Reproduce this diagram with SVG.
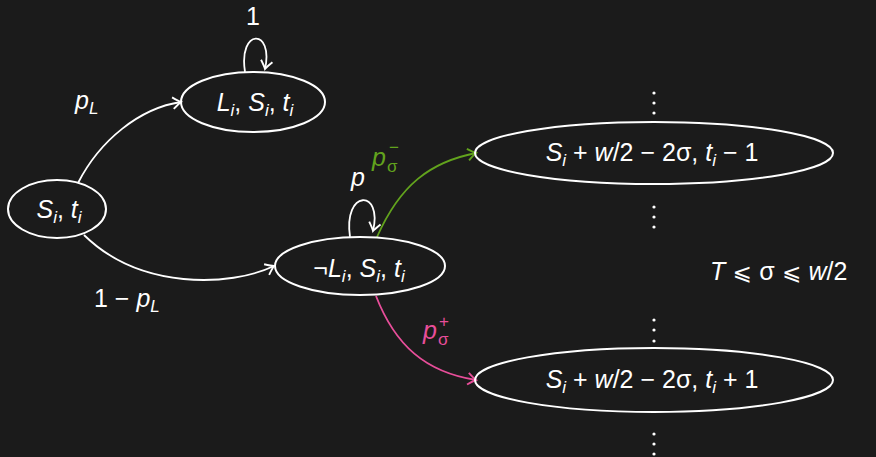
<svg xmlns="http://www.w3.org/2000/svg" width="876" height="457" viewBox="0 0 876 457">
<style>
text{font-family:"Liberation Sans","DejaVu Sans",sans-serif;font-size:25px;fill:#ffffff}
.v{font-style:italic}
.s{font-size:17px}
.n{fill:none;stroke:#ffffff;stroke-width:2}
.e{fill:none;stroke-width:1.8}
.sym{font-family:"DejaVu Sans",sans-serif;font-size:23px}
</style>
<defs>
<marker id="aw" markerUnits="userSpaceOnUse" markerWidth="14" markerHeight="14" refX="0" refY="0" viewBox="-8 -6 10 12" orient="auto"><path d="M-7,-5 Q-2,-1 0,0 Q-2,1 -7,5" fill="none" stroke="#ffffff" stroke-width="1.6"/></marker>
<marker id="ag" markerUnits="userSpaceOnUse" markerWidth="14" markerHeight="14" refX="0" refY="0" viewBox="-8 -6 10 12" orient="auto"><path d="M-7,-5 Q-2,-1 0,0 Q-2,1 -7,5" fill="none" stroke="#62a31d" stroke-width="1.6"/></marker>
<marker id="ap" markerUnits="userSpaceOnUse" markerWidth="14" markerHeight="14" refX="0" refY="0" viewBox="-8 -6 10 12" orient="auto"><path d="M-7,-5 Q-2,-1 0,0 Q-2,1 -7,5" fill="none" stroke="#e84e9a" stroke-width="1.6"/></marker>
</defs>
<rect width="876" height="457" fill="#1b1b1b"/>
<g id="connectors">
<path class="e" stroke="#ffffff" d="M78,183 C100,140 140,108 181,102" marker-end="url(#aw)"/>
<path class="e" stroke="#ffffff" d="M84,235 C140,290 230,287 274,266" marker-end="url(#aw)"/>
<path class="e" stroke="#ffffff" d="M245,72 C238,28 274,28 265,69" marker-end="url(#aw)"/>
<path class="e" stroke="#ffffff" d="M350,237 C343,189 383,189 373,231" marker-end="url(#aw)"/>
<path class="e" stroke="#62a31d" d="M377,237 C400,185 430,162 476,153" marker-end="url(#ag)"/>
<path class="e" stroke="#e84e9a" d="M376,296 C395,345 425,372 476,380" marker-end="url(#ap)"/>
<text x="253" y="25" text-anchor="middle">1</text>
<text x="75" y="109"><tspan class="v">p</tspan><tspan class="v s" dy="5">L</tspan></text>
<text x="94" y="307">1 − <tspan class="v">p</tspan><tspan class="v s" dy="5">L</tspan></text>
<text x="351" y="186" class="v">p</text>
<text x="372" y="166" class="v" style="fill:#62a31d">p</text>
<text x="387" y="172" class="s" style="fill:#62a31d">σ</text>
<text x="389" y="153" class="s" style="fill:#62a31d">−</text>
<text x="423" y="339" class="v" style="fill:#e84e9a">p</text>
<text x="438" y="345" class="s" style="fill:#e84e9a">σ</text>
<text x="439" y="327" class="s" style="fill:#e84e9a">+</text>
</g>
<g id="n1">
<ellipse class="n" cx="57" cy="209" rx="49" ry="29"/>
<text x="59" y="218" text-anchor="middle"><tspan class="v">S</tspan><tspan class="v s" dy="5">i</tspan><tspan dy="-5">, </tspan><tspan class="v">t</tspan><tspan class="v s" dy="5">i</tspan></text>
</g>
<g id="n2">
<ellipse class="n" cx="253" cy="102" rx="72" ry="30"/>
<text x="255" y="111" text-anchor="middle"><tspan class="v">L</tspan><tspan class="v s" dy="5">i</tspan><tspan dy="-5">, </tspan><tspan class="v">S</tspan><tspan class="v s" dy="5">i</tspan><tspan dy="-5">, </tspan><tspan class="v">t</tspan><tspan class="v s" dy="5">i</tspan></text>
</g>
<g id="n3">
<ellipse class="n" cx="360" cy="266" rx="85" ry="29"/>
<text x="359" y="277" text-anchor="middle"><tspan>¬</tspan><tspan class="v">L</tspan><tspan class="v s" dy="5">i</tspan><tspan dy="-5">, </tspan><tspan class="v">S</tspan><tspan class="v s" dy="5">i</tspan><tspan dy="-5">, </tspan><tspan class="v">t</tspan><tspan class="v s" dy="5">i</tspan></text>
</g>
<g id="n4">
<ellipse class="n" cx="654" cy="153" rx="179" ry="31"/>
<text x="652" y="161" text-anchor="middle"><tspan class="v">S</tspan><tspan class="v s" dy="5">i</tspan><tspan dy="-5"> + </tspan><tspan class="v">w</tspan><tspan>/2 − 2σ, </tspan><tspan class="v">t</tspan><tspan class="v s" dy="5">i</tspan><tspan dy="-5"> − 1</tspan></text>
</g>
<g id="n5">
<ellipse class="n" cx="654" cy="380" rx="179" ry="32"/>
<text x="652" y="388" text-anchor="middle"><tspan class="v">S</tspan><tspan class="v s" dy="5">i</tspan><tspan dy="-5"> + </tspan><tspan class="v">w</tspan><tspan>/2 − 2σ, </tspan><tspan class="v">t</tspan><tspan class="v s" dy="5">i</tspan><tspan dy="-5"> + 1</tspan></text>
</g>
<g id="dots" fill="#ffffff">
<circle cx="654" cy="93" r="1.6"/><circle cx="654" cy="103" r="1.6"/><circle cx="654" cy="113" r="1.6"/>
<circle cx="654" cy="207" r="1.6"/><circle cx="654" cy="217" r="1.6"/><circle cx="654" cy="227" r="1.6"/>
<circle cx="654" cy="320" r="1.6"/><circle cx="654" cy="330" r="1.6"/><circle cx="654" cy="341" r="1.6"/>
<circle cx="654" cy="434" r="1.6"/><circle cx="654" cy="444" r="1.6"/><circle cx="654" cy="454" r="1.6"/>
</g>
<g id="constraint">
<text x="710" y="280"><tspan class="v">T</tspan><tspan class="sym"> ⩽ </tspan><tspan>σ</tspan><tspan class="sym"> ⩽ </tspan><tspan class="v">w</tspan><tspan>/2</tspan></text>
</g>
</svg>
